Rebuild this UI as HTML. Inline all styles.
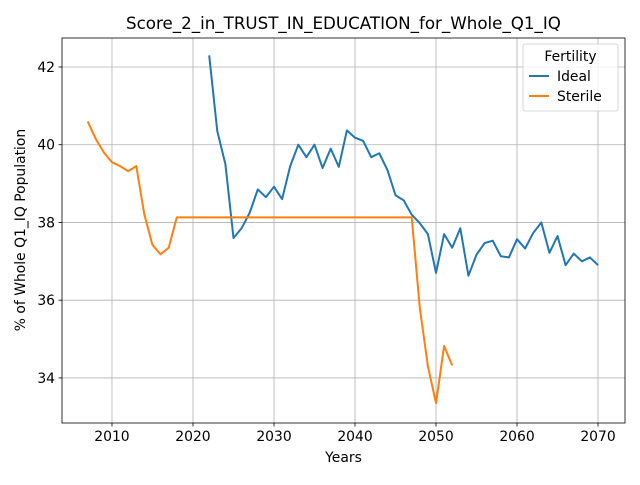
<!DOCTYPE html>
<html><head><meta charset="utf-8"><style>
body{margin:0;background:#fff;font-family:"Liberation Sans","DejaVu Sans",sans-serif;}
svg text{font-family:"DejaVu Sans","Liberation Sans",sans-serif;}
</style></head><body>
<svg id="c" width="640" height="480" xmlns="http://www.w3.org/2000/svg"></svg>
<script>
const idealYears=[2022,2023,2024,2025,2026,2027,2028,2029,2030,2031,2032,2033,2034,2035,2036,2037,2038,2039,2040,2041,2042,2043,2044,2045,2046,2047,2048,2049,2050,2051,2052,2053,2054,2055,2056,2057,2058,2059,2060,2061,2062,2063,2064,2065,2066,2067,2068,2069,2070];
const idealValues=[42.3,40.35,39.5,37.6,37.85,38.25,38.85,38.65,38.92,38.6,39.45,40.0,39.68,40.0,39.4,39.9,39.43,40.37,40.18,40.1,39.68,39.78,39.35,38.7,38.57,38.2,37.98,37.7,36.7,37.7,37.35,37.85,36.63,37.17,37.47,37.53,37.13,37.1,37.57,37.33,37.73,38.0,37.22,37.65,36.9,37.2,37.0,37.1,36.9];
const sterileYears=[2007,2008,2009,2010,2011,2012,2013,2014,2015,2016,2017,2018,2019,2020,2021,2022,2023,2024,2025,2026,2027,2028,2029,2030,2031,2032,2033,2034,2035,2036,2037,2038,2039,2040,2041,2042,2043,2044,2045,2046,2047,2048,2049,2050,2051,2052];
const sterileValues=[40.6,40.15,39.8,39.55,39.45,39.32,39.45,38.2,37.42,37.18,37.35,38.13,38.13,38.13,38.13,38.13,38.13,38.13,38.13,38.13,38.13,38.13,38.13,38.13,38.13,38.13,38.13,38.13,38.13,38.13,38.13,38.13,38.13,38.13,38.13,38.13,38.13,38.13,38.13,38.13,38.13,35.8,34.3,33.35,34.82,34.32];
const xTicks=[2010,2020,2030,2040,2050,2060,2070];
const yTicks=[34,36,38,40,42];
const L=62,R=625,T=38,B=423;
const x0=2003.83,x1=2073.33,y0=32.84,y1=42.746;
const sx=v=>L+(v-x0)/(x1-x0)*(R-L);
const sy=v=>B-(v-y0)/(y1-y0)*(B-T);
const svg=document.getElementById('c');
const NS='http://www.w3.org/2000/svg';
function mk(t,a,txt){const e=document.createElementNS(NS,t);for(const k in a)e.setAttribute(k,a[k]);if(txt!==undefined)e.textContent=txt;svg.appendChild(e);return e;}
xTicks.forEach(t=>{const X=sx(t);
 let g=mk('line',{x1:X,x2:X,y1:T,y2:B,stroke:'#b0b0b0','stroke-width':0.8});
 
 mk('line',{x1:X,x2:X,y1:B,y2:B+3.5,stroke:'#000','stroke-width':0.8});
 let l=mk('text',{x:X,y:B+18,'font-size':13.9,'text-anchor':'middle'},t);
 });
yTicks.forEach(t=>{const Y=sy(t);
 let g=mk('line',{x1:L,x2:R,y1:Y,y2:Y,stroke:'#b0b0b0','stroke-width':0.8});
 
 mk('line',{x1:L-3.5,x2:L,y1:Y,y2:Y,stroke:'#000','stroke-width':0.8});
 let l=mk('text',{x:L-7,y:Y+5,'font-size':13.9,'text-anchor':'end'},t);
 });
function line(xs,ys,c,name){const p=mk('polyline',{points:xs.map((v,i)=>sx(v)+','+sy(ys[i])).join(' '),fill:'none',stroke:c,'stroke-width':2,'stroke-linejoin':'round'});
 }
line(idealYears,idealValues,'#1f77b4','ideal-line');
line(sterileYears,sterileValues,'#ff7f0e','sterile-line');
const fr=mk('rect',{x:L,y:T,width:R-L,height:B-T,fill:'none',stroke:'#000','stroke-width':0.8});

let t1=mk('text',{x:343.5,y:29,'font-size':16.7,'text-anchor':'middle'},'Score_2_in_TRUST_IN_EDUCATION_for_Whole_Q1_IQ');

let t2=mk('text',{x:343.5,y:462,'font-size':13.9,'text-anchor':'middle'},'Years');

let t3=mk('text',{x:25,y:230,'font-size':13.9,'text-anchor':'middle',transform:'rotate(-90 25 230)'},'% of Whole Q1_IQ Population');

const lg=mk('rect',{x:523,y:44,width:95,height:67,rx:2,fill:'#fff','fill-opacity':0.8,stroke:'#ccc','stroke-width':0.8});

let lt=mk('text',{x:570.5,y:61,'font-size':13.9,'text-anchor':'middle'},'Fertility');

[['Ideal','#1f77b4',76],['Sterile','#ff7f0e',96]].forEach(([n,c,y])=>{
 let s=mk('line',{x1:529,x2:549,y1:y,y2:y,stroke:c,'stroke-width':2});
 
 let e=mk('text',{x:557,y:y+5,'font-size':13.9},n);
 });
</script>
</body></html>
